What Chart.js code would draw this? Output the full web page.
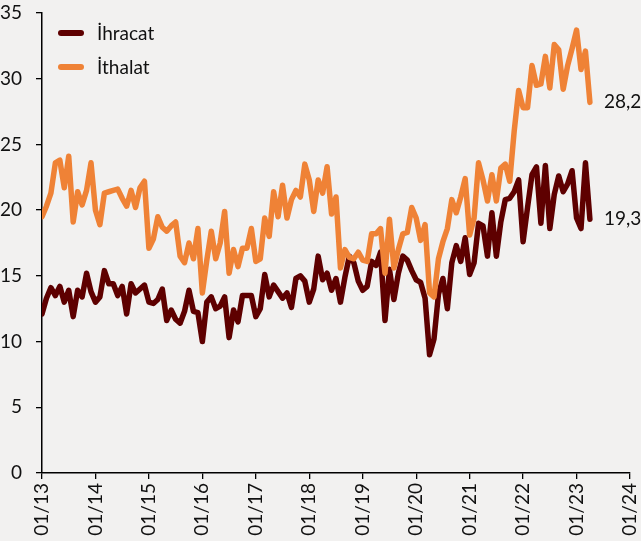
<!DOCTYPE html>
<html lang="tr">
<head>
  <meta charset="UTF-8">
  <title>İhracat ve İthalat</title>
  <script src="https://cdn.jsdelivr.net/npm/chart.js"></script>
  <style>
    html, body { margin: 0; padding: 0; background: #f2f1f0; }
    #wrap { width: 641px; height: 541px; }
  </style>
</head>
<body>
  <div id="wrap"><canvas id="tradeChart" width="641" height="541"></canvas></div>

  <script>
    // monthly values, 01/2013 - 04/2023 (billion USD)
    const tickLabels = ['01/13', '01/14', '01/15', '01/16', '01/17', '01/18', '01/19', '01/20', '01/21', '01/22', '01/23', '01/24'];
    const seriesNames = ['İhracat', 'İthalat'];

    const ihracat = [
      12.1, 13.3, 14.1, 13.5, 14.2, 13.0, 13.9, 11.9, 13.9, 13.4, 15.2, 13.8,
      13.0, 13.4, 15.4, 14.4, 14.4, 13.5, 14.2, 12.1, 14.4, 13.7, 14.0, 14.3,
      13.0, 12.9, 13.2, 14.0, 11.6, 12.4, 11.7, 11.4, 12.3, 13.9, 12.3, 12.2,
      10.0, 13.0, 13.4, 12.5, 12.7, 13.4, 10.3, 12.4, 11.5, 13.5, 13.5, 13.5,
      11.9, 12.5, 15.1, 13.4, 14.3, 13.8, 13.3, 13.7, 12.6, 14.8, 15.0, 14.6,
      13.0, 14.0, 16.5, 14.7, 15.2, 13.9, 14.8, 13.0, 14.9, 16.5, 16.0, 14.6,
      13.9, 14.2, 16.1, 15.8, 16.8, 11.6, 15.5, 13.2, 15.2, 16.5, 16.2, 15.4,
      14.7, 14.5, 13.3, 9.0, 10.2, 13.6, 14.8, 12.5, 16.0, 17.3, 16.1, 17.9,
      15.1, 16.0, 19.0, 18.8, 16.5, 19.8, 16.5, 19.1, 20.8, 20.9, 21.4, 22.3,
      17.6, 20.2, 22.7, 23.3, 19.0, 23.4, 18.6, 21.2, 22.6, 21.4, 22.0, 23.0,
      19.4, 18.6, 23.6, 19.3
    ];

    const ithalat = [
      19.5, 20.3, 21.3, 23.6, 23.8, 21.7, 24.1, 19.1, 21.4, 20.4, 21.5, 23.6,
      20.0, 18.9, 21.3, 21.4, 21.5, 21.6, 20.9, 20.3, 21.5, 20.2, 21.7, 22.2,
      17.1, 17.8, 19.5, 18.7, 18.4, 18.8, 19.1, 16.5, 16.0, 17.5, 16.3, 18.6,
      13.7, 16.2, 18.4, 16.3, 17.5, 19.9, 15.2, 17.0, 15.7, 17.1, 17.1, 18.6,
      16.1, 16.3, 19.4, 18.0, 21.4, 19.5, 21.9, 19.4, 20.8, 21.5, 21.0, 23.5,
      22.3, 19.9, 22.3, 21.3, 23.3, 19.7, 21.0, 15.6, 17.0, 16.4, 16.3, 16.8,
      16.2, 16.1, 18.2, 18.2, 18.6, 15.2, 19.3, 15.6, 17.0, 18.2, 18.3, 20.2,
      19.4, 17.7, 18.9, 13.7, 13.4, 16.3, 17.6, 18.6, 20.8, 19.8, 21.0, 22.4,
      18.1, 19.4, 23.6, 22.3, 20.7, 22.7, 20.7, 23.2, 23.5, 22.2, 26.0, 29.1,
      27.8, 27.8, 31.0, 29.5, 29.6, 31.7, 29.3, 32.6, 32.2, 29.2, 31.0, 32.3,
      33.7, 30.7, 32.1, 28.2
    ];

    const colors = ['#5e0000', '#ef8236'];
    const fontFamily = 'Lato, "Open Sans", sans-serif';
    const textSize = 19;

    const toPoints = arr => arr.map((v, i) => ({ x: i, y: v }));

    // canvas background
    const bgFill = {
      id: 'bgFill',
      beforeDraw(chart) {
        const c = chart.ctx;
        c.save();
        c.fillStyle = '#f2f1f0';
        c.fillRect(0, 0, chart.width, chart.height);
        c.restore();
      }
    };

    // legend drawn in the top-left corner of the plot
    const cornerLegend = {
      id: 'cornerLegend',
      afterDraw(chart) {
        const c = chart.ctx;
        c.save();
        c.font = textSize + 'px ' + fontFamily;
        c.textBaseline = 'middle';
        seriesNames.forEach((name, i) => {
          const y = 33 + i * 34;
          c.strokeStyle = colors[i];
          c.lineWidth = 6;
          c.lineCap = 'round';
          c.beginPath();
          c.moveTo(61, y);
          c.lineTo(81, y);
          c.stroke();
          c.fillStyle = '#111';
          c.fillText(name, 97, y + 1);
        });
        c.restore();
      }
    };

    // value label next to the last point of each line
    const endValues = {
      id: 'endValues',
      afterDatasetsDraw(chart) {
        const c = chart.ctx;
        c.save();
        c.font = textSize + 'px ' + fontFamily;
        c.textBaseline = 'middle';
        c.fillStyle = '#111';
        chart.data.datasets.forEach((ds, i) => {
          const pts = chart.getDatasetMeta(i).data;
          const last = pts[pts.length - 1];
          const v = ds.data[ds.data.length - 1].y;
          c.fillText(v.toFixed(1).replace('.', ','), last.x + 14, last.y);
        });
        c.restore();
      }
    };

    const ctx = document.getElementById('tradeChart').getContext('2d');
    new Chart(ctx, {
      type: 'line',
      data: {
        datasets: [
          {
            label: seriesNames[0],
            data: toPoints(ihracat),
            borderColor: colors[0],
            borderWidth: 5.5,
            order: 1
          },
          {
            label: seriesNames[1],
            data: toPoints(ithalat),
            borderColor: colors[1],
            borderWidth: 5.5,
            order: 0
          }
        ]
      },
      options: {
        responsive: false,
        animation: false,
        devicePixelRatio: 1,
        layout: { padding: { left: 0, right: 11, top: 13, bottom: 0 } },
        elements: {
          point: { radius: 0 },
          line: { tension: 0, borderJoinStyle: 'round', borderCapStyle: 'round' }
        },
        plugins: {
          legend: { display: false },
          tooltip: { enabled: false }
        },
        scales: {
          x: {
            type: 'linear',
            min: 0,
            max: 132,
            afterFit(scale) {
              scale.height = 68;
              scale.paddingLeft = 0;
              scale.paddingRight = 0;
            },
            ticks: {
              stepSize: 12,
              autoSkip: false,
              maxRotation: 90,
              minRotation: 90,
              padding: 4,
              color: '#111',
              font: { family: fontFamily, size: textSize },
              callback: v => tickLabels[v / 12]
            },
            grid: { drawOnChartArea: false, drawTicks: true, tickLength: 6, color: '#000', lineWidth: 1.3 },
            border: { color: '#000', width: 1.5 }
          },
          y: {
            min: 0,
            max: 35,
            afterFit(scale) {
              scale.width = 42;
              scale.paddingTop = 0;
              scale.paddingBottom = 0;
            },
            ticks: {
              stepSize: 5,
              padding: 14,
              color: '#111',
              font: { family: fontFamily, size: textSize }
            },
            grid: { drawOnChartArea: false, drawTicks: true, tickLength: 6, color: '#000', lineWidth: 1.3 },
            border: { color: '#000', width: 1.5 }
          }
        }
      },
      plugins: [bgFill, cornerLegend, endValues]
    });
  </script>
</body>
</html>
